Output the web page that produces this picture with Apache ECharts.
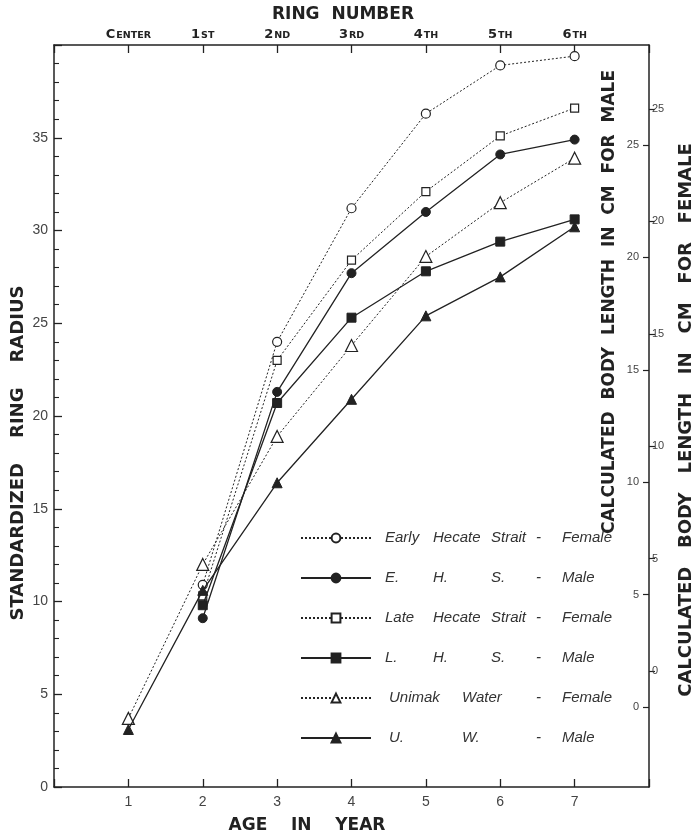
<!DOCTYPE html>
<html><head><meta charset="utf-8">
<script src="https://cdn.jsdelivr.net/npm/echarts@6/dist/echarts.min.js"></script>
<style>html,body{margin:0;padding:0;background:#fff}#c{width:695px;height:834px}</style>
</head><body><div id="c"></div>
<script>
// ---- data ----
const ages = [1, 2, 3, 4, 5, 6, 7];
const ringLabels = ['CENTER', '1ST', '2ND', '3RD', '4TH', '5TH', '6TH'];
const ehsFemale = [null, 10.9, 24.0, 31.2, 36.3, 38.9, 39.4];
const ehsMale   = [null, 9.1, 21.3, 27.7, 31.0, 34.1, 34.9];
const lhsFemale = [null, 10.3, 23.0, 28.4, 32.1, 35.1, 36.6];
const lhsMale   = [null, 9.8, 20.7, 25.3, 27.8, 29.4, 30.6];
const uwFemale  = [3.7, 12.0, 18.9, 23.8, 28.6, 31.5, 33.9];
const uwMale    = [3.1, 10.6, 16.4, 20.9, 25.4, 27.5, 30.2];
const maleLengthTicks = [0, 5, 10, 15, 20, 25];
const femaleLengthTicks = [0, 5, 10, 15, 20, 25];
const legendWords = [
  ['Early', 'Hecate', 'Strait', '-', 'Female'],
  ['E.', 'H.', 'S.', '-', 'Male'],
  ['Late', 'Hecate', 'Strait', '-', 'Female'],
  ['L.', 'H.', 'S.', '-', 'Male'],
  ['Unimak', 'Water', '-', 'Female'],
  ['U.', 'W.', '-', 'Male']
];

const INK = '#222';
const names = legendWords.map(w => w.join(' '));
function pairs(arr) { return ages.map((a, i) => [a, arr[i]]).filter(p => p[1] !== null); }

const dotted = { color: INK, width: 1, type: [2, 2] };
const solid = { color: INK, width: 1.3, type: 'solid' };
const openItem = { color: '#fff', borderColor: INK, borderWidth: 1.2 };
const fillItem = { color: INK, borderColor: INK, borderWidth: 1 };

const seriesDefs = [
  { data: ehsFemale, line: dotted, item: openItem, symbol: 'circle', size: 9 },
  { data: ehsMale, line: solid, item: fillItem, symbol: 'circle', size: 9 },
  { data: lhsFemale, line: dotted, item: openItem, symbol: 'rect', size: 8 },
  { data: lhsMale, line: solid, item: fillItem, symbol: 'rect', size: 9 },
  { data: uwFemale, line: dotted, item: openItem, symbol: 'triangle', size: 12 },
  { data: uwMale, line: solid, item: fillItem, symbol: 'triangle', size: 10 }
];

const chart = echarts.init(document.getElementById('c'), null, { renderer: 'canvas' });
const axisLineStyle = { color: INK, width: 1.5 };
const labelFont = 'Liberation Sans';
const titleFont = 'DejaVu Sans';

const option = {
  backgroundColor: '#ffffff',
  animation: false,
  grid: { left: 54, right: 46, top: 45, bottom: 47 },
  xAxis: [
    {
      type: 'value', position: 'bottom', min: 0, max: 8, interval: 1,
      axisLine: { show: true, onZero: false, lineStyle: axisLineStyle },
      axisTick: { show: true, inside: true, length: 8, lineStyle: { color: INK, width: 1.3 } },
      axisLabel: { fontFamily: labelFont, fontSize: 14, color: '#444', margin: 8,
        formatter: v => (v >= 1 && v <= 7) ? String(v) : '' },
      splitLine: { show: false }
    },
    {
      type: 'value', position: 'top', min: 0, max: 8, interval: 1,
      axisLine: { show: true, onZero: false, lineStyle: axisLineStyle },
      axisTick: { show: true, inside: true, length: 8, lineStyle: { color: INK, width: 1.3 } },
      axisLabel: { margin: 4,
        formatter: v => {
          if (v < 1 || v > 7) return '';
          const s = ringLabels[v - 1];
          return '{a|' + s.charAt(0) + '}{b|' + s.slice(1) + '}';
        },
        rich: {
          a: { fontFamily: titleFont, fontWeight: 'bold', fontSize: 13, color: INK },
          b: { fontFamily: titleFont, fontWeight: 'bold', fontSize: 9.5, color: INK, verticalAlign: 'bottom', padding: [0, 0, 0, 1] }
        }
      },
      splitLine: { show: false }
    }
  ],
  yAxis: [
    {
      type: 'value', position: 'left', min: 0, max: 40, interval: 5,
      axisLine: { show: true, onZero: false, lineStyle: axisLineStyle },
      axisTick: { show: true, inside: true, length: 8, lineStyle: { color: INK, width: 1.3 } },
      minorTick: { show: true, splitNumber: 5, length: 5, lineStyle: { color: INK, width: 1.1 } },
      axisLabel: { fontFamily: labelFont, fontSize: 14, color: '#444', margin: 6,
        formatter: v => (v <= 35 && v % 5 === 0) ? String(v) : '' },
      splitLine: { show: false }
    },
    {
      type: 'value', position: 'right', min: -3.56, max: 29.45,
      axisLine: { show: true, onZero: false, lineStyle: axisLineStyle },
      axisTick: { show: true, inside: true, length: 6, customValues: maleLengthTicks, lineStyle: { color: INK, width: 1.2 } },
      axisLabel: { inside: true, margin: 10, fontFamily: labelFont, fontSize: 11, color: '#444', customValues: maleLengthTicks,
        formatter: v => (v >= 0 && v % 5 === 0) ? String(v) : '' },
      splitLine: { show: false }
    },
    {
      type: 'value', position: 'right', offset: 0, min: -5.16, max: 27.85,
      axisLine: { show: false, onZero: false },
      axisTick: { show: true, inside: false, length: 6, customValues: femaleLengthTicks, lineStyle: { color: INK, width: 1.2 } },
      axisLabel: { margin: 3, fontFamily: labelFont, fontSize: 11, color: '#444', customValues: femaleLengthTicks,
        formatter: v => (v >= 0 && v % 5 === 0) ? String(v) : '' },
      splitLine: { show: false }
    }
  ],
  legend: {
    orient: 'vertical', left: 295, top: 525, itemWidth: 70, itemHeight: 11, itemGap: 24,
    selectedMode: false,
    data: names,
    formatter: name => {
      const w = legendWords[names.indexOf(name)];
      if (w.length === 5) {
        return '{pad| }{c1|' + w[0] + '}{c2|' + w[1] + '}{c3|' + w[2] + '}{c4|' + w[3] + '}{c5|' + w[4] + '}';
      }
      return '{pad2| }{d1|' + w[0] + '}{d2|' + w[1] + '}{c4|' + w[2] + '}{c5|' + w[3] + '}';
    },
    textStyle: {
      fontFamily: labelFont, fontStyle: 'italic', fontSize: 15, color: '#333', lineHeight: 16,
      rich: (function () {
        const base = { fontFamily: labelFont, fontStyle: 'italic', fontSize: 15, color: '#333', lineHeight: 16 };
        const r = {};
        const widths = { pad: 9, c1: 48, c2: 58, c3: 45, c4: 26, c5: null, pad2: 13, d1: 73, d2: 74 };
        Object.keys(widths).forEach(k => { r[k] = Object.assign({}, base); if (widths[k]) r[k].width = widths[k]; });
        return r;
      })()
    }
  },
  graphic: [
    { type: 'text', x: 343, y: 15, style: { text: 'RING  NUMBER', fontFamily: titleFont, fontWeight: 'bold', fontSize: 17, fill: INK, align: 'center', verticalAlign: 'middle' } },
    { type: 'text', x: 307, y: 826, style: { text: 'AGE    IN    YEAR', fontFamily: titleFont, fontWeight: 'bold', fontSize: 17, fill: INK, align: 'center', verticalAlign: 'middle' } },
    { type: 'text', x: 18, y: 453, rotation: Math.PI / 2, style: { text: 'STANDARDIZED    RING    RADIUS', fontFamily: titleFont, fontWeight: 'bold', fontSize: 18, fill: INK, align: 'center', verticalAlign: 'middle' } },
    { type: 'text', x: 610, y: 302, rotation: Math.PI / 2, style: { text: 'CALCULATED  BODY  LENGTH  IN  CM  FOR  MALE', fontFamily: titleFont, fontWeight: 'bold', fontSize: 17, fill: INK, align: 'center', verticalAlign: 'middle' } },
    { type: 'text', x: 686, y: 420, rotation: Math.PI / 2, style: { text: 'CALCULATED   BODY   LENGTH   IN   CM   FOR   FEMALE', fontFamily: titleFont, fontWeight: 'bold', fontSize: 18, fill: INK, align: 'center', verticalAlign: 'middle' } }
  ],
  series: seriesDefs.map((d, i) => ({
    name: names[i],
    type: 'line',
    xAxisIndex: 0, yAxisIndex: 0,
    data: pairs(d.data),
    symbol: d.symbol,
    symbolSize: d.size,
    showSymbol: true,
    lineStyle: d.line,
    itemStyle: d.item,
    emphasis: { disabled: true },
    z: 2 + i
  }))
};
chart.setOption(option);
</script>
</body></html>
